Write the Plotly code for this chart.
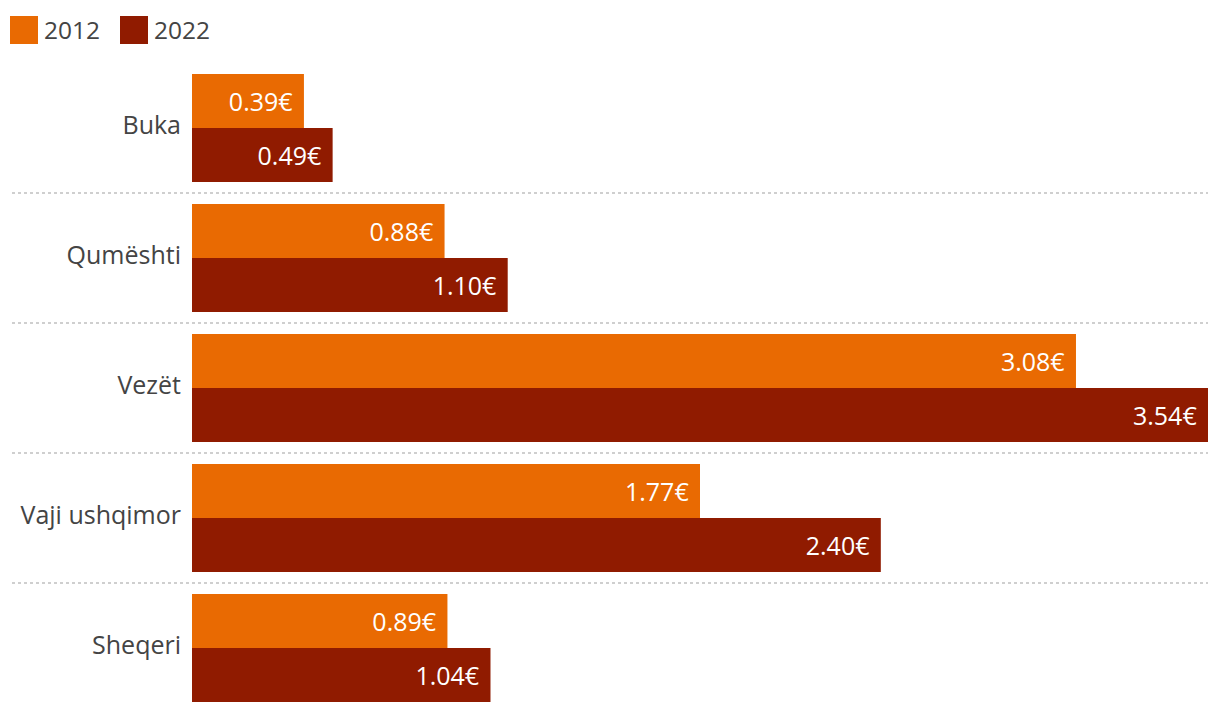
import plotly.graph_objects as go

categories = ["Buka", "Qumështi", "Vezët", "Vaji ushqimor", "Sheqeri"]
years = ["2012", "2022"]
values_2012 = [0.39, 0.88, 3.08, 1.77, 0.89]
values_2022 = [0.49, 1.10, 3.54, 2.40, 1.04]
colors = ["#E96A02", "#901B00"]

FONT = "Open Sans"
W, H = 1220, 712
ML, MR, MT, MB = 192, 12, 63, 0
PW, PH = W - ML - MR, H - MT - MB

def px_x(p):
    return (p - ML) / PW

def px_y(p):
    return (H - MB - p) / PH

fig = go.Figure()
for year, vals, col in zip(years, [values_2012, values_2022], colors):
    fig.add_trace(go.Bar(
        y=categories, x=vals, orientation="h", name=year,
        marker=dict(color=col, line=dict(width=0)),
        text=[f"{v:.2f}€\u2004" for v in vals],
        textposition="inside", insidetextanchor="end", textangle=0,
        constraintext="none",
        textfont=dict(color="white", size=25, family=FONT),
        showlegend=False, hoverinfo="skip",
    ))

shapes = []
for i in range(len(categories) - 1):
    shapes.append(dict(type="line", xref="paper", yref="y",
                       x0=px_x(12), x1=1, y0=i + 0.5, y1=i + 0.5,
                       line=dict(color="#cfcfcf", width=2, dash="dot")))

annotations = []
legend_x = [10, 120]
for lx, year, col in zip(legend_x, years, colors):
    shapes.append(dict(type="rect", xref="paper", yref="paper",
                       x0=px_x(lx), x1=px_x(lx + 28), y0=px_y(44), y1=px_y(16),
                       fillcolor=col, line=dict(width=0)))
    annotations.append(dict(xref="paper", yref="paper", x=px_x(lx + 32), y=px_y(29),
                            xanchor="left", yanchor="middle", text=year, showarrow=False,
                            font=dict(size=24.5, color="#444444", family=FONT)))

fig.update_layout(
    width=W, height=H,
    margin=dict(l=ML, r=MR, t=MT, b=MB, pad=0),
    paper_bgcolor="white", plot_bgcolor="white",
    barmode="group", bargap=22 / 130, bargroupgap=0,
    xaxis=dict(range=[0, 3.54], visible=False, fixedrange=True),
    yaxis=dict(range=[4.5 - 1 / 130, -0.5], showgrid=False, zeroline=False,
               showline=False, ticks="", ticklabelstandoff=10, ticklabelshift=3,
               tickfont=dict(size=25, color="#444444", family=FONT)),
    shapes=shapes, annotations=annotations,
    font=dict(family=FONT),
)

fig.write_html("out.html")
